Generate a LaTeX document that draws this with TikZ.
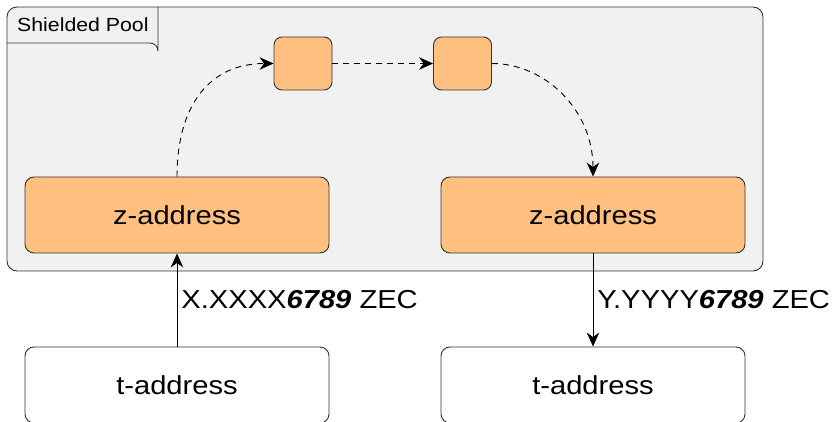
\documentclass[tikz,border=0pt]{standalone}
\usepackage{fontspec}
\setmainfont[FakeStretch=1.12]{Liberation Sans}
\usetikzlibrary{arrows.meta,calc}
\definecolor{poolfill}{HTML}{F1F1F1}
\definecolor{orangefill}{HTML}{FFC080}
\definecolor{edgegray}{HTML}{333333}
\tikzset{
  addrbox/.style={draw=edgegray, line width=0.9pt, rounded corners=9pt, minimum width=304pt, minimum height=76pt, inner sep=0pt, font=\fontsize{26}{30}\selectfont},
  zbox/.style={addrbox, fill=orangefill},
  tbox/.style={addrbox, fill=white},
  smallbox/.style={draw=edgegray, line width=0.9pt, fill=orangefill, rounded corners=8pt, minimum width=58pt, minimum height=53pt, inner sep=0pt},
  solidarrow/.style={draw=black, line width=0.9pt, -{Stealth[length=14pt,width=12.5pt,inset=4.5pt]}},
  dasharrow/.style={draw=black, line width=0.9pt, dash pattern=on 6pt off 5pt, -{Stealth[length=14pt,width=12.5pt,inset=4.5pt]}},
  amount/.style={font=\fontsize{26}{30}\selectfont, inner sep=0pt, anchor=west}
}
\begin{document}
\begin{tikzpicture}[x=1pt,y=-1pt]
\useasboundingbox (0,0) rectangle (836,422);
\clip (0,0) rectangle (836,422);
% shielded pool container
\node[draw=edgegray, line width=0.9pt, fill=poolfill, rounded corners=10pt, minimum width=756pt, minimum height=264pt, inner sep=0pt] (pool) at (385,139) {};
\draw[draw=edgegray, line width=0.9pt] (7,43) -- (150,43) arc[start angle=90, end angle=0, radius=8pt] -- (158,7);
\node[font=\fontsize{19}{22}\selectfont, anchor=west, inner sep=0pt] (poollabel) at (17,25) {Shielded Pool};
% boxes
\node[zbox] (zl) at (177,215) {z-address};
\node[zbox] (zr) at (593,215) {z-address};
\node[tbox] (tl) at (177,385) {t-address};
\node[tbox] (tr) at (593,385) {t-address};
\node[smallbox] (s1) at (303,63.5) {};
\node[smallbox] (s2) at (462.5,63.5) {};
% dashed path
\draw[dasharrow] (zl.north) .. controls (177,105) and (210,63.5) .. (s1.west);
\draw[dasharrow] (s1.east) -- (s2.west);
\draw[dasharrow] (s2.east) .. controls (545,63.5) and (593,110) .. (zr.north);
% solid arrows
\draw[solidarrow] (tl.north) -- (zl.south) node[midway, amount, xshift=4pt] (lblx) {X.XXXX\textbf{\textit{6789}} ZEC};
\draw[solidarrow] (zr.south) -- (tr.north) node[midway, amount, xshift=4pt] (lbly) {Y.YYYY\textbf{\textit{6789}} ZEC};
\end{tikzpicture}
\end{document}
